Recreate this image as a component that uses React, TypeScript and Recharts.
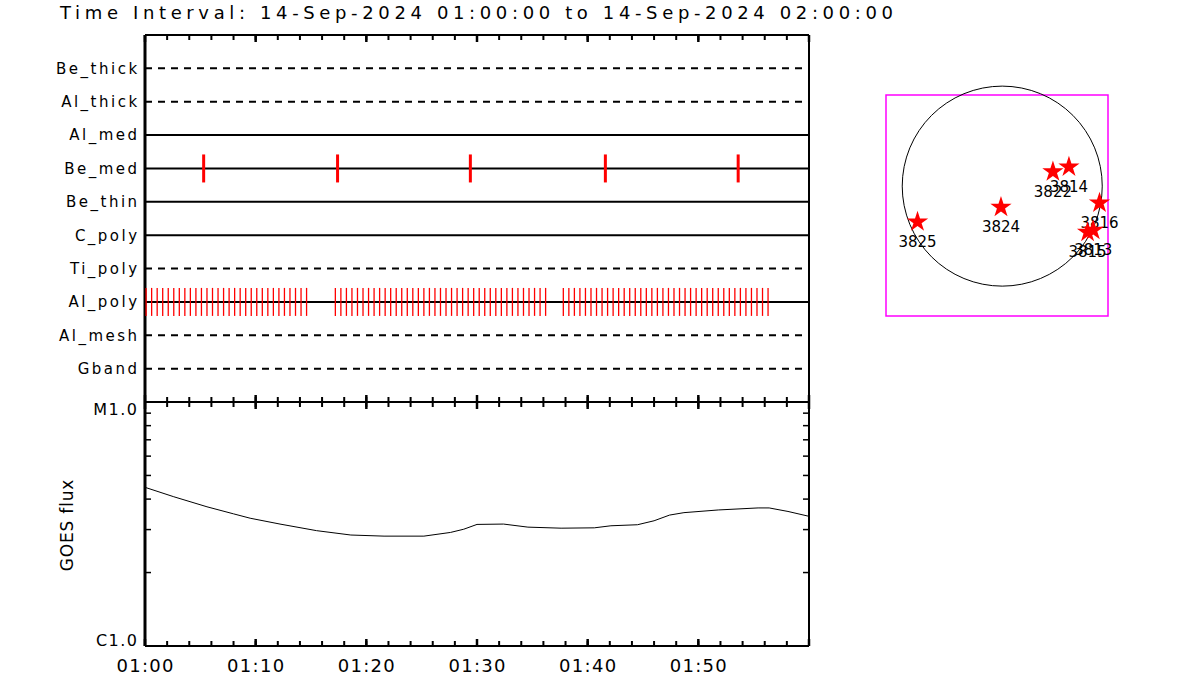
import React from "react";
import {
  ComposedChart,
  LineChart,
  ScatterChart,
  Line,
  Scatter,
  XAxis,
  YAxis,
  ReferenceLine,
  ReferenceArea,
  ReferenceDot,
  Symbols,
} from "recharts";

const FONT = '"DejaVu Sans", sans-serif';
const RED = "#ff0000";

// filter rows, top to bottom
const filters = ["Be_thick", "Al_thick", "Al_med", "Be_med", "Be_thin", "C_poly", "Ti_poly", "Al_poly", "Al_mesh", "Gband"];
const dashedFilters = ["Be_thick", "Al_thick", "Ti_poly", "Al_mesh", "Gband"];
const rowTicks = [1, 2, 3, 4, 5, 6, 7, 8, 9, 10];

// exposure times, minutes after 01:00
const beMedTimes = [5.3, 17.4, 29.4, 41.6, 53.6];
const alPolyTimes = [
  0.1, 0.6, 1.1, 1.6, 2.1, 2.6, 3.1, 3.6, 4.1, 4.6, 5.1, 5.6, 6.1, 6.6, 7.1, 7.6, 8.1, 8.6, 9.1, 9.6,
  10.1, 10.6, 11.1, 11.6, 12.1, 12.6, 13.1, 13.6, 14.1, 14.6,
  17.2, 17.7, 18.2, 18.7, 19.2, 19.7, 20.2, 20.7, 21.2, 21.7, 22.2, 22.7, 23.2, 23.7, 24.2, 24.7,
  25.2, 25.7, 26.2, 26.7, 27.2, 27.7, 28.2, 28.7, 29.2, 29.7, 30.2, 30.7, 31.2, 31.7, 32.2, 32.7,
  33.2, 33.7, 34.2, 34.7, 35.2, 35.7, 36.2,
  37.8, 38.3, 38.8, 39.3, 39.8, 40.3, 40.8, 41.3, 41.8, 42.3, 42.8, 43.3, 43.8, 44.3, 44.8, 45.3,
  45.8, 46.3, 46.8, 47.3, 47.8, 48.3, 48.8, 49.3, 49.8, 50.3, 50.8, 51.3, 51.8, 52.3, 52.8, 53.3,
  53.8, 54.3, 54.8, 55.3, 55.8, 56.3,
];

const minorTicks = [0, 2, 4, 6, 8, 10, 12, 14, 16, 18, 20, 22, 24, 26, 28, 30, 32, 34, 36, 38, 40, 42, 44, 46, 48, 50, 52, 54, 56, 58, 60];
const majorTicks = [0, 10, 20, 30, 40, 50, 60];
const timeLabels = [0, 10, 20, 30, 40, 50];

// GOES flux
const goesTime = [0, 2.6, 5.6, 8.0, 9.5, 12.2, 15.5, 18.6, 21.6, 25.2, 27.6, 28.8, 30.0, 32.4, 34.6, 37.6, 40.6, 42.1, 44.5, 46.0, 47.4, 48.7, 51.8, 55.4, 56.4, 58.1, 60];
const goesFlux = [
  4.47e-6, 4.09e-6, 3.72e-6, 3.48e-6, 3.34e-6, 3.16e-6, 2.97e-6, 2.85e-6, 2.82e-6, 2.82e-6, 2.92e-6,
  3.01e-6, 3.15e-6, 3.16e-6, 3.07e-6, 3.04e-6, 3.05e-6, 3.11e-6, 3.14e-6, 3.26e-6, 3.44e-6, 3.52e-6,
  3.61e-6, 3.68e-6, 3.68e-6, 3.56e-6, 3.40e-6,
];
const goesTicks = [1e-6, 1e-5];
const goesTickLabels = ["C1.0", "M1.0"];
const goesMinor = [2e-6, 3e-6, 4e-6, 5e-6, 6e-6, 7e-6, 8e-6, 9e-6];

// active regions, arcsec
const regionIds = ["3825", "3824", "3822", "3814", "3816", "3815", "3813"];
const regionX = [-809, -12, 484, 637, 929, 815, 869];
const regionY = [-341, -201, 137, 184, -160, -439, -420];
const SUN_R = 955;
const sunX = [-1110, 1010];
const sunY = [-1240, 870];

const beMedData = beMedTimes.map((t) => ({ t, row: 4 }));
const alPolyData = alPolyTimes.map((t) => ({ t, row: 8 }));
const goesData = goesTime.map((t, i) => ({ t, flux: goesFlux[i] }));
const regionData = regionIds.map((id, i) => ({ id, x: regionX[i], y: regionY[i] }));

const timeFmt = (m: number) => `01:${String(m).padStart(2, "0")}`;

const NoLabel = () => <g />;

const RowTick = ({ x, y, payload }: any) => (
  <text x={x + 2.6} y={y} dy="0.36em" textAnchor="end" fontFamily={FONT} fontSize={15} letterSpacing={2.5} fill="#000">
    {filters[payload.value - 1]}
  </text>
);

const TimeTick = ({ x, y, payload }: any) => (
  <text x={x + 0.6} y={y} dy="0.72em" textAnchor="middle" fontFamily={FONT} fontSize={18} letterSpacing={1.3} fill="#000">
    {timeFmt(payload.value)}
  </text>
);

const GoesTick = ({ x, y, payload }: any) => {
  const i = goesTicks.indexOf(payload.value);
  return (
    <text x={x + 1.5} y={i === 1 ? y + 13 : y} textAnchor="end" fontFamily={FONT} fontSize={16} letterSpacing={1.5} fill="#000">
      {goesTickLabels[i]}
    </text>
  );
};

const tickMark = (w: number) => ({ stroke: "#000", strokeWidth: w });
const frameLine = { stroke: "#000", strokeWidth: 2 };

const BeMedMark = ({ cx, cy }: any) => (
  <line x1={cx} x2={cx} y1={cy - 14} y2={cy + 14} stroke={RED} strokeWidth={3} />
);
const AlPolyMark = ({ cx, cy }: any) => (
  <line x1={cx} x2={cx} y1={cy - 14} y2={cy + 14} stroke={RED} strokeWidth={1.3} />
);

const StarMark = ({ cx, cy, payload }: any) => (
  <g>
    <Symbols cx={cx} cy={cy} type="star" size={140} fill={RED} />
    <text x={cx} y={cy + 25} textAnchor="middle" fontFamily={FONT} fontSize={15} fill="#000">
      {payload.id}
    </text>
  </g>
);

// edge tick axes (inward ticks, no labels)
const edgeAxes = (prefix: string, orientation: "top" | "bottom") => [
  <XAxis
    key={prefix + "min"}
    xAxisId={prefix + "min"}
    type="number"
    dataKey="t"
    domain={[0, 60]}
    ticks={minorTicks}
    interval={0}
    orientation={orientation}
    mirror
    height={1}
    tick={<NoLabel />}
    tickSize={4}
    tickLine={tickMark(2)}
    axisLine={false}
    allowDataOverflow
  />,
  <XAxis
    key={prefix + "maj"}
    xAxisId={prefix + "maj"}
    type="number"
    dataKey="t"
    domain={[0, 60]}
    ticks={majorTicks}
    interval={0}
    orientation={orientation}
    mirror
    height={1}
    tick={<NoLabel />}
    tickSize={7}
    tickLine={tickMark(2.5)}
    axisLine={false}
    allowDataOverflow
  />,
];

export default function App() {
  const sunR = (SUN_R * 222) / (sunX[1] - sunX[0]);
  return (
    <div style={{ position: "absolute", left: 0, top: 0, width: 1200, height: 700, background: "#fff" }}>
      <svg width={1200} height={700} style={{ position: "absolute", left: 0, top: 0 }}>
        <text x={60} y={19} fontFamily={FONT} fontSize={18} textLength={833} lengthAdjust="spacing" fill="#000">
          Time Interval: 14-Sep-2024 01:00:00 to 14-Sep-2024 02:00:00
        </text>
        <text x={73} y={525} transform="rotate(-90 73 525)" textAnchor="middle" fontFamily={FONT} fontSize={17} letterSpacing={0.8} fill="#000">
          GOES flux
        </text>
      </svg>

      {/* filter / exposure panel */}
      <div style={{ position: "absolute", left: 0, top: 0 }}>
        <ComposedChart width={820} height={410} data={alPolyData} margin={{ top: 35, right: 11, bottom: 8, left: 0 }}>
          <XAxis xAxisId={0} type="number" dataKey="t" domain={[0, 60]} hide allowDataOverflow />
          {edgeAxes("top", "top")}
          {edgeAxes("bot", "bottom")}
          <YAxis
            yAxisId={0}
            type="number"
            dataKey="row"
            domain={[0, 11]}
            reversed
            ticks={rowTicks}
            interval={0}
            width={145}
            tick={<RowTick />}
            tickLine={false}
            tickSize={0}
            tickMargin={8}
            axisLine={{ stroke: "#000", strokeWidth: 3 }}
            allowDataOverflow
          />
          {/* frame */}
          <ReferenceLine xAxisId={0} yAxisId={0} y={0} {...frameLine} ifOverflow="visible" />
          <ReferenceLine xAxisId={0} yAxisId={0} y={11} {...frameLine} ifOverflow="visible" />
          <ReferenceLine xAxisId={0} yAxisId={0} x={60} {...frameLine} ifOverflow="visible" />
          {filters.map((f, i) => (
            <ReferenceLine
              key={f}
              xAxisId={0}
              yAxisId={0}
              y={i + 1}
              stroke="#000"
              strokeWidth={2}
              strokeDasharray={dashedFilters.includes(f) ? "7 6" : undefined}
            />
          ))}
          <Scatter data={beMedData} xAxisId={0} yAxisId={0} isAnimationActive={false} shape={<BeMedMark />} />
          <Scatter data={alPolyData} xAxisId={0} yAxisId={0} isAnimationActive={false} shape={<AlPolyMark />} />
        </ComposedChart>
      </div>

      {/* GOES panel */}
      <div style={{ position: "absolute", left: 0, top: 390 }}>
        <LineChart width={820} height={310} data={goesData} margin={{ top: 12, right: 11, bottom: 20, left: 0 }}>
          <XAxis
            xAxisId={0}
            type="number"
            dataKey="t"
            domain={[0, 60]}
            ticks={timeLabels}
            interval={0}
            height={34}
            tick={<TimeTick />}
            tickLine={false}
            tickSize={0}
            tickMargin={13}
            axisLine={false}
            allowDataOverflow
          />
          {edgeAxes("gtop", "top")}
          {edgeAxes("gbot", "bottom")}
          <YAxis
            yAxisId={0}
            type="number"
            scale="log"
            domain={[1e-6, 1e-5]}
            ticks={goesTicks}
            interval={0}
            width={145}
            tick={<GoesTick />}
            tickLine={false}
            tickSize={0}
            tickMargin={8}
            axisLine={{ stroke: "#000", strokeWidth: 3 }}
            allowDataOverflow
          />
          <YAxis
            yAxisId="lmin"
            type="number"
            scale="log"
            dataKey="flux"
            domain={[1e-6, 1e-5]}
            ticks={goesMinor}
            interval={0}
            orientation="left"
            mirror
            width={1}
            tick={<NoLabel />}
            tickSize={6}
            tickLine={tickMark(1.5)}
            axisLine={false}
            allowDataOverflow
          />
          <YAxis
            yAxisId="rmin"
            type="number"
            scale="log"
            dataKey="flux"
            domain={[1e-6, 1e-5]}
            ticks={goesMinor}
            interval={0}
            orientation="right"
            mirror
            width={1}
            tick={<NoLabel />}
            tickSize={6}
            tickLine={tickMark(1.5)}
            axisLine={false}
            allowDataOverflow
          />
          {/* frame */}
          <ReferenceLine xAxisId={0} yAxisId={0} y={1e-5} {...frameLine} ifOverflow="visible" />
          <ReferenceLine xAxisId={0} yAxisId={0} y={1e-6} {...frameLine} ifOverflow="visible" />
          <ReferenceLine xAxisId={0} yAxisId={0} x={60} {...frameLine} ifOverflow="visible" />
          <Line
            xAxisId={0}
            yAxisId={0}
            type="linear"
            dataKey="flux"
            stroke="#000"
            strokeWidth={1}
            dot={false}
            isAnimationActive={false}
          />
        </LineChart>
      </div>

      {/* solar disk with active regions */}
      <div style={{ position: "absolute", left: 870, top: 70 }}>
        <ScatterChart width={280} height={270} margin={{ top: 25, right: 42, bottom: 24, left: 16 }}>
          <XAxis type="number" dataKey="x" domain={sunX} hide />
          <YAxis type="number" dataKey="y" domain={sunY} hide />
          <ReferenceArea
            x1={sunX[0]}
            x2={sunX[1]}
            y1={sunY[0]}
            y2={sunY[1]}
            fill="none"
            stroke="#ff00ff"
            strokeWidth={1.5}
            ifOverflow="visible"
          />
          <ReferenceDot x={0} y={0} r={sunR} fill="none" stroke="#000" strokeWidth={1} ifOverflow="visible" />
          <Scatter data={regionData} isAnimationActive={false} shape={<StarMark />} />
        </ScatterChart>
      </div>
    </div>
  );
}
